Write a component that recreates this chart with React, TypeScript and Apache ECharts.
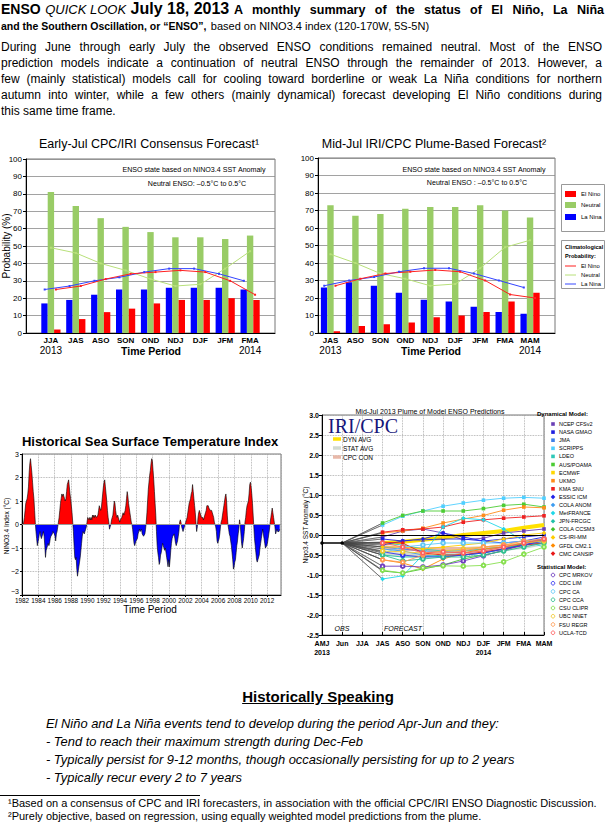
import React, { useEffect, useRef } from 'react';
import * as echarts from 'echarts';

const FONT = '"Liberation Sans", Arial, Helvetica, sans-serif';
const SERIF = '"Liberation Serif", "DejaVu Serif", serif';

// ---------- Consensus forecast (left bar chart) ----------
const consensusSeasons = ['JJA', 'JAS', 'ASO', 'SON', 'OND', 'NDJ', 'DJF', 'JFM', 'FMA'];
const consensusLaNina = [17, 19, 22, 25, 25, 26, 26, 26, 25];
const consensusNeutral = [81, 73, 66, 61, 58, 55, 55, 54, 56];
const consensusElNino = [2, 8, 12, 14, 17, 19, 19, 20, 19];
const consensusClimLaNina = [25, 27, 30, 32, 35, 37, 37, 34, 30];
const consensusClimNeutral = [49, 46, 40, 36, 31, 27, 28, 37, 47];
const consensusClimElNino = [25, 27, 31, 34, 35, 36, 35, 30, 22];

// ---------- Plume-based forecast (right bar chart) ----------
const plumeSeasons = ['JAS', 'ASO', 'SON', 'OND', 'NDJ', 'DJF', 'JFM', 'FMA', 'MAM'];
const plumeLaNina = [26, 29, 27, 23, 19, 18, 15, 12, 11];
const plumeNeutral = [73, 67, 68, 71, 72, 72, 73, 70, 66];
const plumeElNino = [1, 4, 5, 6, 9, 10, 12, 18, 23];
const plumeClimLaNina = [27, 30, 32, 35, 37, 37, 34, 30, 26];
const plumeClimNeutral = [45, 40, 34, 31, 27, 28, 37, 49, 53];
const plumeClimElNino = [27, 31, 34, 35, 36, 35, 30, 22, 20];

// ---------- Historical NINO3.4 index, monthly from Jan 1982 ----------
const sst1980s = [
  0.1, 0.0, 0.1, 0.3, 0.6, 0.9, 1.0, 1.1, 1.3, 1.6, 2.2, 2.6,
  2.8, 2.5, 2.2, 1.8, 1.4, 1.1, 0.6, 0.1, -0.3, -0.6, -0.9, -0.9,
  -0.6, -0.4, -0.3, -0.5, -0.6, -0.5, -0.4, -0.3, -0.5, -0.9, -1.4, -1.1,
  -1.0, -0.9, -0.8, -0.9, -0.8, -0.6, -0.5, -0.5, -0.4, -0.3, -0.3, -0.4,
  -0.5, -0.7, -0.4, -0.3, -0.1, 0.1, 0.3, 0.6, 0.9, 1.1, 1.3, 1.2,
  1.3, 1.2, 1.1, 1.0, 1.1, 1.4, 1.7, 1.8, 1.9, 1.6, 1.3, 1.1,
  0.8, 0.5, 0.1, -0.3, -0.9, -1.4, -1.5, -1.4, -1.9, -2.2, -2.0, -1.8,
  -1.6, -1.4, -1.1, -0.8, -0.5, -0.3, -0.3, -0.4, -0.3, -0.2, -0.1, 0.1,
];
const sst1990s = [
  0.3, 0.3, 0.2, 0.3, 0.2, 0.3, 0.2, 0.4, 0.3, 0.4, 0.3, 0.4,
  0.4, 0.3, 0.3, 0.4, 0.6, 0.8, 0.7, 0.6, 0.7, 1.0, 1.3, 1.6,
  1.8, 1.9, 1.6, 1.3, 1.0, 0.6, 0.3, 0.1, -0.2, -0.1, 0.0, 0.2,
  0.3, 0.4, 0.7, 1.0, 0.9, 0.6, 0.4, 0.3, 0.4, 0.3, 0.2, 0.1,
  0.2, 0.2, 0.3, 0.4, 0.5, 0.4, 0.5, 0.6, 0.8, 1.1, 1.4, 1.2,
  0.9, 0.7, 0.5, 0.3, 0.1, 0.0, -0.2, -0.5, -0.8, -0.9, -0.8, -0.7,
  -0.7, -0.6, -0.4, -0.3, -0.2, -0.3, -0.3, -0.2, -0.4, -0.4, -0.5, -0.5,
  -0.4, -0.2, 0.1, 0.5, 1.0, 1.5, 1.8, 2.1, 2.3, 2.6, 2.8, 2.7,
  2.3, 1.9, 1.4, 0.9, 0.4, -0.3, -0.9, -1.2, -1.4, -1.7, -1.6, -1.3,
  -1.2, -1.0, -0.8, -0.9, -1.0, -1.1, -1.0, -1.2, -1.4, -1.6, -1.8, -1.5,
];
const sst2000s = [
  -1.8, -1.5, -1.1, -0.8, -0.6, -0.5, -0.5, -0.4, -0.6, -0.8, -0.9, -0.8,
  -0.7, -0.5, -0.3, 0.1, 0.2, 0.1, -0.1, -0.2, -0.3, -0.2, -0.1, 0.0,
  0.1, 0.2, 0.3, 0.5, 0.7, 0.9, 1.0, 1.1, 1.3, 1.4, 1.7, 1.4,
  1.1, 0.8, 0.5, 0.1, -0.3, -0.1, 0.3, 0.5, 0.6, 0.5, 0.4, 0.3,
  0.3, 0.3, 0.2, 0.3, 0.4, 0.5, 0.6, 0.8, 0.8, 0.8, 0.7, 0.7,
  0.6, 0.6, 0.6, 0.5, 0.4, 0.3, 0.1, 0.0, -0.1, -0.3, -0.7, -0.8,
  -0.8, -0.6, -0.4, -0.1, 0.1, 0.2, 0.4, 0.6, 0.8, 1.0, 1.2, 1.3,
  1.0, 0.4, 0.0, -0.2, -0.4, -0.5, -0.7, -0.9, -1.2, -1.5, -1.9, -1.8,
  -1.6, -1.5, -1.2, -0.9, -0.7, -0.4, -0.2, 0.2, 0.0, -0.4, -0.8, -1.0,
  -0.8, -0.6, -0.3, 0.1, 0.3, 0.6, 0.8, 0.9, 1.0, 1.3, 1.7, 1.8,
];
const sst2010s = [
  1.6, 1.3, 0.9, 0.4, -0.1, -0.6, -0.9, -1.2, -1.5, -1.6, -1.5, -1.5,
  -1.3, -1.0, -0.8, -0.6, -0.4, -0.2, -0.4, -0.6, -0.8, -1.0, -1.0, -0.9,
  -0.8, -0.6, -0.4, -0.2, 0.1, 0.3, 0.5, 0.7, 0.5, 0.3, 0.1, -0.1,
  -0.4, -0.3, -0.2, -0.3, -0.3, -0.3, -0.2,
];
const sstFirstYear = 1982;

// ---------- Plume of model predictions ----------
const plumeAxisLabels = ['AMJ', 'Jun', 'JJA', 'JAS', 'ASO', 'SON', 'OND', 'NDJ', 'DJF', 'JFM', 'FMA', 'MAM'];
const observedNino34 = [-0.2, -0.2]; // AMJ, Jun
const forecastStartIndex = 3; // JAS

const dynModelNames = ['NCEP CFSv2', 'NASA GMAO', 'JMA', 'SCRIPPS', 'LDEO', 'AUS/POAMA', 'ECMWF', 'UKMO', 'KMA SNU',
  'ESSIC ICM', 'COLA ANOM', 'MetFRANCE', 'JPN-FRCGC', 'COLA CCSM3', 'CS-IRI-MM', 'GFDL CM2.1', 'CMC CANSIP'];
const dynModelValues: (number | null)[][] = [
  [-0.05, 0.1, 0.15, 0.05, -0.12, -0.08, 0.05, 0.1, 0.15],
  [-0.1, -0.15, -0.12, -0.1, -0.1, -0.15, -0.1, -0.05, 0.0],
  [-0.3, -0.35, -0.4, -0.42, -0.45, null, null, null, null],
  [0.25, 0.47, 0.6, 0.72, 0.8, 0.87, 0.92, 0.94, 0.92],
  [-0.2, -0.25, -0.35, -0.4, -0.4, -0.35, -0.3, -0.25, -0.2],
  [0.3, 0.49, 0.6, 0.6, 0.6, 0.66, 0.74, 0.77, 0.7],
  [-0.2, -0.18, -0.1, -0.05, 0.0, null, null, null, null],
  [0.05, 0.1, 0.17, 0.3, 0.4, 0.49, 0.62, 0.7, 0.68],
  [0.07, 0.13, 0.15, 0.2, 0.32, 0.38, 0.42, 0.45, 0.48],
  [-0.25, -0.15, -0.1, 0.05, -0.05, -0.15, -0.2, -0.15, -0.05],
  [-0.35, -0.4, -0.5, -0.55, -0.5, -0.45, -0.35, -0.25, -0.15],
  [-1.1, -1.02, -0.5, 0.2, 0.42, 0.38, 0.15, -0.15, -0.3],
  [-0.5, -0.55, -0.55, -0.5, -0.5, -0.45, -0.35, -0.2, -0.1],
  [-0.9, -0.95, -0.85, -0.75, -0.6, -0.5, -0.4, -0.2, -0.1],
  [-0.3, -0.3, -0.35, -0.3, -0.25, -0.2, -0.1, 0.0, 0.05],
  [-0.62, -0.7, -0.85, -0.6, -0.45, -0.35, -0.3, -0.2, -0.15],
  [-0.18, -0.2, -0.45, -0.5, -0.5, -0.42, -0.35, -0.25, -0.2],
];
const dynModelColors = ['#6a3fb5', '#1f1fe0', '#3f7fe8', '#4fcfff', '#2fc8b8', '#4ccc33', '#ffd700', '#ff8c1a', '#ee2020',
  '#2020e8', '#3c9cf0', '#20d8e8', '#20c0a8', '#44c02a', '#ffcc00', '#ff8a00', '#e81818'];

const statModelNames = ['CPC MRKOV', 'CDC LIM', 'CPC CA', 'CPC CCA', 'CSU CLIPR', 'UBC NNET', 'FSU REGR', 'UCLA-TCD'];
const statModelValues: (number | null)[][] = [
  [-0.78, -0.78, -0.8, -0.75, -0.65, -0.52, -0.38, -0.25, -0.12],
  [-0.42, -0.5, -0.55, -0.55, -0.5, -0.45, -0.35, -0.25, -0.15],
  [-0.45, -0.3, -0.25, -0.2, -0.2, -0.2, -0.2, -0.15, -0.1],
  [-0.5, -0.65, -0.6, -0.55, -0.55, -0.5, -0.4, -0.3, -0.2],
  [-0.88, -0.95, -0.82, -0.77, -0.78, -0.76, -0.67, -0.48, -0.3],
  [-0.4, -0.42, -0.45, -0.4, -0.35, -0.3, -0.25, -0.2, -0.15],
  [-0.62, -0.68, -0.5, -0.45, -0.4, -0.3, -0.25, -0.15, -0.1],
  [-0.2, -0.3, -0.45, -0.42, -0.45, -0.4, -0.3, -0.2, -0.1],
];
const statModelColors = ['#7040c0', '#3434f0', '#60c8f8', '#30c090', '#88e050', '#f0c830', '#ff9a50', '#ff6060'];

const dynAvg = [-0.2, -0.17, -0.12, -0.07, 0.0, 0.05, 0.1, 0.18, 0.25];
const statAvg = [-0.45, -0.5, -0.5, -0.47, -0.45, -0.4, -0.35, -0.3, -0.2];
const cpcConsensus = [-0.3, -0.35, -0.35, -0.35, -0.35, -0.33, -0.3, -0.25, null];

const paragraphLines = [
  'During June through early July the observed ENSO conditions remained neutral.  Most of the ENSO',
  'prediction models indicate a continuation of neutral ENSO through the remainder of 2013.  However, a',
  'few (mainly statistical) models call for cooling toward borderline or weak La Niña conditions for northern',
  'autumn into winter, while a few others (mainly dynamical) forecast developing El Niño conditions during',
  'this same time frame.',
];
const historyLines = [
  'El Niño and La Niña events tend to develop during the period Apr-Jun and they:',
  '- Tend to reach their maximum strength during Dec-Feb',
  '- Typically persist for 9-12 months, though occasionally persisting for up to 2 years',
  '- Typically recur every 2 to 7 years',
];

const RED = '#ff0000';
const GREEN = '#99cc66';
const BLUE = '#0000ff';

function txt(x: number, y: number, text: string, o: any = {}) {
  return {
    type: 'text', x, y, rotation: o.rotation || 0, silent: true, z: 100,
    style: {
      text, fill: o.color || '#000', fontSize: o.size || 10, fontFamily: o.family || FONT,
      fontWeight: o.weight || 'normal', fontStyle: o.style || 'normal',
      textAlign: o.align || 'left', textVerticalAlign: 'middle', align: o.align || 'left', verticalAlign: 'middle',
    },
  };
}

function buildOption() {
  const gridBase = { show: true, borderColor: '#777', borderWidth: 1, backgroundColor: 'transparent', containLabel: false, outerBoundsMode: 'none' };
  const grid = [
    { left: 26, top: 159, width: 249, height: 174 },
    { left: 318, top: 158, width: 237, height: 175 },
    { left: 22, top: 454, width: 259, height: 141 },
    { left: 322, top: 415, width: 222, height: 220 },
  ].map((g) => ({ ...gridBase, ...g }));

  // bar x axes: value axes starting at 0 at the plot's left edge; seasons sit at start + k
  const barX = (gridIndex: number, cats: string[], start: number, max: number, interval: number) => ({
    type: 'value', gridIndex, min: 0, max, interval,
    axisLine: { show: true, onZero: false, lineStyle: { color: '#000', width: 1 } },
    axisTick: { show: false },
    splitLine: { show: false },
    axisLabel: {
      margin: 3, hideOverlap: false, showMinLabel: true, showMaxLabel: true,
      formatter: (v: number) => {
        const i = Math.round(v - start);
        if (Math.abs(v - start - i) > 1e-6 || i < 0 || i >= cats.length) return '';
        if (i === 0) return `{c|${cats[i]}}\n{y|2013}`;
        if (i === cats.length - 1) return `{c|${cats[i]}}\n{y|2014}`;
        return `{c|${cats[i]}}`;
      },
      rich: {
        c: { fontSize: 8, fontWeight: 'bold', fontFamily: FONT, color: '#000', lineHeight: 9 },
        y: { fontSize: 10, fontFamily: FONT, color: '#000', lineHeight: 11 },
      },
    },
  });
  const barY = (gridIndex: number) => ({
    type: 'value', gridIndex, min: 0, max: 100, interval: 10,
    axisLine: { show: true, onZero: false, lineStyle: { color: '#000', width: 1 } },
    axisTick: { show: true, length: 3, lineStyle: { color: '#000' } },
    axisLabel: { fontSize: 8, margin: 4, fontFamily: FONT, color: '#000' },
    splitLine: { show: true, lineStyle: { color: '#8a8a8a', width: 0.8 } },
  });

  const bar = (ai: number, start: number, name: string, vals: number[], color: string) => ({
    type: 'bar', name, xAxisIndex: ai, yAxisIndex: ai, silent: true, z: 3,
    data: vals.map((v, i) => [start + i, v]), barWidth: 6.4, barGap: '0%',
    itemStyle: { color, borderWidth: 0 },
  });
  const clim = (ai: number, start: number, name: string, vals: number[], color: string, off: number) => ({
    type: 'line', name, xAxisIndex: ai, yAxisIndex: ai, silent: true, z: 5,
    data: vals.map((v, i) => [start + i + off, v]), symbol: 'rect', symbolSize: 2, showSymbol: true,
    lineStyle: { color, width: 1 }, itemStyle: { color, borderWidth: 0 },
  });

  const sstAll = [...sst1980s, ...sst1990s, ...sst2000s, ...sst2010s];
  const sstData = sstAll.map((v, k) => [sstFirstYear + (k + 0.5) / 12, v]);

  const L0 = 1;   // left chart: first season at 1 on a 0..10 axis
  const R0 = 0.5; // right chart: first season at 0.5 on a 0..9.5 axis
  const series: any[] = [
    bar(0, L0, 'La Niña', consensusLaNina, BLUE),
    bar(0, L0, 'Neutral', consensusNeutral, GREEN),
    bar(0, L0, 'El Niño', consensusElNino, RED),
    clim(0, L0, 'Clim Neutral', consensusClimNeutral, '#b8e07a', 0),
    clim(0, L0, 'Clim La Niña', consensusClimLaNina, '#3344ff', -0.25),
    clim(0, L0, 'Clim El Niño', consensusClimElNino, '#ff2020', 0.2),
    bar(1, R0, 'La Niña', plumeLaNina, BLUE),
    bar(1, R0, 'Neutral', plumeNeutral, GREEN),
    bar(1, R0, 'El Niño', plumeElNino, RED),
    clim(1, R0, 'Clim Neutral', plumeClimNeutral, '#b8e07a', 0),
    clim(1, R0, 'Clim La Niña', plumeClimLaNina, '#3344ff', -0.25),
    clim(1, R0, 'Clim El Niño', plumeClimElNino, '#ff2020', 0.2),
  ];
  const sstAreaIndex = series.length;
  series.push({
    type: 'line', name: 'NINO3.4 area', xAxisIndex: 2, yAxisIndex: 2, silent: true,
    data: sstData, symbol: 'none', showSymbol: false,
    lineStyle: { width: 0 }, areaStyle: { opacity: 1 },
    markLine: {
      silent: true, symbol: 'none', label: { show: false },
      lineStyle: { color: '#999', type: 'solid', width: 1 }, data: [{ yAxis: 0 }],
    },
  });
  series.push({
    type: 'line', name: 'NINO3.4', xAxisIndex: 2, yAxisIndex: 2, silent: true, z: 4,
    data: sstData, symbol: 'none', lineStyle: { color: '#000', width: 0.6 },
  });

  // plume
  const allModelValues = [...dynModelValues, ...statModelValues];
  const fanData: number[][] = [];
  allModelValues.forEach((vals) => {
    if (vals[0] != null) {
      fanData.push([1, observedNino34[1]]);
      fanData.push([forecastStartIndex, vals[0] as number]);
    }
  });
  series.push({
    type: 'line', name: 'fan', xAxisIndex: 3, yAxisIndex: 3, silent: true,
    data: fanData, symbol: 'none', lineStyle: { color: '#444', width: 0.5 },
  });
  const avgLine = (name: string, vals: (number | null)[], color: string) => ({
    type: 'line', name, xAxisIndex: 3, yAxisIndex: 3, silent: true, symbol: 'none',
    data: vals.map((v, k) => (v == null ? null : [forecastStartIndex + k, v])).filter(Boolean),
    lineStyle: { color, width: 4 },
  });
  series.push(avgLine('STAT AVG', statAvg, '#d2dad2'));
  series.push(avgLine('CPC CON', cpcConsensus, '#e8b8a8'));
  series.push(avgLine('DYN AVG', dynAvg, '#ffe100'));
  dynModelNames.forEach((name, m) => {
    series.push({
      type: 'line', name, xAxisIndex: 3, yAxisIndex: 3, silent: true,
      data: dynModelValues[m].map((v, k) => (v == null ? null : [forecastStartIndex + k, v])).filter(Boolean),
      symbol: m < 9 ? 'rect' : 'diamond', symbolSize: m < 9 ? 3.6 : 4.6,
      lineStyle: { color: dynModelColors[m], width: 0.9 }, itemStyle: { color: dynModelColors[m] },
    });
  });
  statModelNames.forEach((name, m) => {
    series.push({
      type: 'line', name, xAxisIndex: 3, yAxisIndex: 3, silent: true,
      data: statModelValues[m].map((v, k) => (v == null ? null : [forecastStartIndex + k, v])).filter(Boolean),
      symbol: 'emptyCircle', symbolSize: 3.6,
      lineStyle: { color: statModelColors[m], width: 0.9 }, itemStyle: { color: statModelColors[m], borderWidth: 0.9 },
    });
  });
  series.push({
    type: 'line', name: 'OBS', xAxisIndex: 3, yAxisIndex: 3, silent: true, z: 6,
    data: observedNino34.map((v, k) => [k, v]), symbol: 'circle', symbolSize: 3.5,
    lineStyle: { color: '#000', width: 1.4 }, itemStyle: { color: '#000' },
    markLine: {
      silent: true, symbol: 'none', label: { show: false },
      lineStyle: { color: '#000', type: 'solid', width: 1.2 }, data: [{ yAxis: 0 }],
    },
  });

  const dotted = { show: true, lineStyle: { color: '#a0a0a0', type: 'dotted', width: 0.8 } };

  const xAxis = [
    barX(0, consensusSeasons, L0, 10, 1),
    barX(1, plumeSeasons, R0, 9.5, 0.5),
    {
      type: 'value', gridIndex: 2, min: 1982, max: 2013.7, interval: 2,
      axisLine: { show: true, onZero: false, lineStyle: { color: '#000' } },
      axisTick: { show: true, length: 2, lineStyle: { color: '#000' } },
      axisLabel: {
        fontSize: 6.4, margin: 2, color: '#000', fontFamily: FONT, showMaxLabel: false, hideOverlap: false,
        formatter: (v: number) => String(Math.round(v)),
      },
      splitLine: dotted,
    },
    {
      type: 'category', gridIndex: 3, data: plumeAxisLabels, boundaryGap: false,
      axisLine: { show: true, onZero: false, lineStyle: { color: '#000' } },
      axisTick: { show: true, inside: true, length: 3, lineStyle: { color: '#000' } },
      axisLabel: {
        interval: 0, margin: 4, hideOverlap: false,
        formatter: (v: string, i: number) => {
          if (i === 0) return `{c|${v}}\n{y|2013}`;
          if (i === 8) return `{c|${v}}\n{y|2014}`;
          return `{c|${v}}`;
        },
        rich: {
          c: { fontSize: 7, fontWeight: 'bold', fontFamily: FONT, color: '#000', lineHeight: 9 },
          y: { fontSize: 7, fontWeight: 'bold', fontFamily: FONT, color: '#000', lineHeight: 9 },
        },
      },
      splitLine: { ...dotted, interval: 0 },
    },
  ];
  const yAxis = [
    barY(0),
    barY(1),
    {
      type: 'value', gridIndex: 2, min: -3, max: 3, interval: 1,
      axisLine: { show: true, onZero: false, lineStyle: { color: '#000' } },
      axisTick: { show: true, length: 2, lineStyle: { color: '#000' } },
      axisLabel: {
        fontSize: 7, margin: 3, color: '#000', fontFamily: FONT,
        formatter: (v: number) => (v === -3 ? '{lo|−3}' : String(v).replace('-', '−')),
        rich: { lo: { fontSize: 7, fontFamily: FONT, color: '#000', padding: [0, 0, 7, 0] } },
      },
      splitLine: dotted,
    },
    {
      type: 'value', gridIndex: 3, min: -2.5, max: 3, interval: 0.5,
      axisLine: { show: true, onZero: false, lineStyle: { color: '#000' } },
      axisTick: { show: true, length: 3, lineStyle: { color: '#000' } },
      axisLabel: { fontSize: 7, fontWeight: 'bold', margin: 3, color: '#000', fontFamily: FONT, formatter: (v: number) => v.toFixed(1) },
      splitLine: dotted,
    },
  ];

  const graphic: any[] = [
    txt(149, 144, 'Early-Jul CPC/IRI Consensus Forecast¹', { size: 12.5, align: 'center' }),
    txt(434, 144, 'Mid-Jul IRI/CPC Plume-Based Forecast²', { size: 12.5, align: 'center' }),
    txt(194, 170, 'ENSO state based on NINO3.4 SST Anomaly', { size: 7.1, align: 'center' }),
    txt(197, 183.5, 'Neutral ENSO: –0.5°C to 0.5°C', { size: 7.1, align: 'center' }),
    txt(474, 169.5, 'ENSO state based on NINO3.4 SST Anomaly', { size: 7.1, align: 'center' }),
    txt(477, 183, 'Neutral ENSO : –0.5°C to 0.5°C', { size: 7.1, align: 'center' }),
    txt(151, 350.5, 'Time Period', { size: 10.5, weight: 'bold', align: 'center' }),
    txt(431, 350.5, 'Time Period', { size: 10.5, weight: 'bold', align: 'center' }),
    txt(6, 246, 'Probability (%)', { size: 10, align: 'center', rotation: Math.PI / 2 }),
    { type: 'rect', z: 90, silent: true, shape: { x: 561.5, y: 184.5, width: 43, height: 47 }, style: { fill: '#fff', stroke: '#999', lineWidth: 1 } },
    { type: 'rect', z: 91, silent: true, shape: { x: 565, y: 191, width: 11, height: 6 }, style: { fill: RED } },
    { type: 'rect', z: 91, silent: true, shape: { x: 565, y: 202, width: 11, height: 6 }, style: { fill: GREEN } },
    { type: 'rect', z: 91, silent: true, shape: { x: 565, y: 214, width: 11, height: 6 }, style: { fill: BLUE } },
    txt(581, 194, 'El Nino', { size: 6 }),
    txt(581, 205, 'Neutral', { size: 6 }),
    txt(581, 217, 'La Nina', { size: 6 }),
    { type: 'rect', z: 90, silent: true, shape: { x: 561.5, y: 240.5, width: 43, height: 48 }, style: { fill: '#fff', stroke: '#999', lineWidth: 1 } },
    txt(565, 246.5, 'Climatological', { size: 5.6, weight: 'bold' }),
    txt(565, 256, 'Probability:', { size: 5.6, weight: 'bold' }),
    { type: 'line', z: 91, silent: true, shape: { x1: 565, y1: 266, x2: 576, y2: 266 }, style: { stroke: '#ff2020', lineWidth: 1 } },
    { type: 'line', z: 91, silent: true, shape: { x1: 565, y1: 275, x2: 576, y2: 275 }, style: { stroke: '#b8e07a', lineWidth: 1 } },
    { type: 'line', z: 91, silent: true, shape: { x1: 565, y1: 284, x2: 576, y2: 284 }, style: { stroke: '#7a86ff', lineWidth: 1.5 } },
    txt(581, 266, 'El Nino', { size: 5.8 }),
    txt(581, 275, 'Neutral', { size: 5.8 }),
    txt(581, 284, 'La Nina', { size: 5.8 }),
    txt(150, 441, 'Historical Sea Surface Temperature Index', { size: 13, weight: 'bold', align: 'center' }),
    txt(6, 526, 'NINO3.4 Index (°C)', { size: 6.5, align: 'center', rotation: Math.PI / 2 }),
    txt(150, 609.5, 'Time Period', { size: 10, align: 'center' }),
    txt(430, 411, 'Mid-Jul 2013 Plume of Model ENSO Predictions', { size: 7, align: 'center' }),
    txt(305, 525, 'Nino3.4 SST Anomaly (°C)', { size: 6.5, align: 'center', rotation: Math.PI / 2 }),
    txt(328, 426, 'IRI/CPC', { size: 20, family: SERIF, color: '#16167a' }),
    { type: 'line', z: 91, silent: true, shape: { x1: 333, y1: 439, x2: 341, y2: 439 }, style: { stroke: '#ffe100', lineWidth: 3.5 } },
    { type: 'line', z: 91, silent: true, shape: { x1: 333, y1: 448, x2: 341, y2: 448 }, style: { stroke: '#d2dad2', lineWidth: 3.5 } },
    { type: 'line', z: 91, silent: true, shape: { x1: 333, y1: 457, x2: 341, y2: 457 }, style: { stroke: '#e8b8a8', lineWidth: 3.5 } },
    txt(343, 439, 'DYN AVG', { size: 6.5 }),
    txt(343, 448, 'STAT AVG', { size: 6.5 }),
    txt(343, 457, 'CPC CON', { size: 6.5 }),
    txt(342, 628, 'OBS', { size: 7, style: 'italic', align: 'center' }),
    txt(403, 628, 'FORECAST', { size: 7, style: 'italic', align: 'center' }),
    txt(537, 414, 'Dynamical Model:', { size: 6, weight: 'bold' }),
    txt(537, 566.5, 'Statistical Model:', { size: 6, weight: 'bold' }),
  ];
  dynModelNames.forEach((name, m) => {
    const y = 424 + m * 8.1;
    const c = dynModelColors[m];
    if (m < 9) {
      graphic.push({ type: 'rect', z: 91, silent: true, shape: { x: 551.2, y: y - 1.8, width: 3.6, height: 3.6 }, style: { fill: c } });
    } else {
      graphic.push({ type: 'polygon', z: 91, silent: true, shape: { points: [[553, y - 2.3], [555.3, y], [553, y + 2.3], [550.7, y]] }, style: { fill: c } });
    }
    graphic.push(txt(559, y, name, { size: 5.5 }));
  });
  statModelNames.forEach((name, m) => {
    const y = 575 + m * 8.25;
    graphic.push({ type: 'circle', z: 91, silent: true, shape: { cx: 553, cy: y, r: 1.8 }, style: { fill: '#fff', stroke: statModelColors[m], lineWidth: 0.9 } });
    graphic.push(txt(559, y, name, { size: 5.5 }));
  });

  return {
    animation: false,
    backgroundColor: '#fff',
    grid, xAxis, yAxis, series, graphic,
    visualMap: [{
      type: 'piecewise', show: false, seriesIndex: sstAreaIndex, dimension: 1,
      pieces: [{ gt: -10, lte: 0, color: '#0000ff' }, { gt: 0, lte: 10, color: '#ff0000' }],
      outOfRange: { color: '#999' },
    }],
  };
}

export default function App() {
  const ref = useRef<HTMLDivElement>(null);
  useEffect(() => {
    if (!ref.current) return;
    const chart = echarts.init(ref.current, null, { renderer: 'svg' });
    chart.setOption(buildOption() as any);
    return () => chart.dispose();
  }, []);

  const abs = (o: any): React.CSSProperties => ({ position: 'absolute', pointerEvents: 'none', ...o });
  return (
    <div style={{ position: 'absolute', left: 0, top: 0, width: 606, height: 824, background: '#fff', color: '#000', fontFamily: FONT, overflow: 'hidden' }}>
      <div ref={ref} style={{ position: 'absolute', left: 0, top: 0, width: 606, height: 824 }} />
      <div style={abs({ left: 1, top: 0, lineHeight: '18px', whiteSpace: 'nowrap' })}>
        <b style={{ fontSize: 14 }}>ENSO</b>{' '}
        <i style={{ fontSize: 13 }}>QUICK LOOK</i>{' '}
        <b style={{ fontSize: 16 }}>July 18, 2013</b>
      </div>
      <div style={abs({ left: 234, top: 0, width: 370, lineHeight: '18px', textAlign: 'justify', textAlignLast: 'justify', whiteSpace: 'nowrap' })}>
        <b style={{ fontSize: 12.5 }}>A monthly summary of the status of El Niño, La Niña</b>
      </div>
      <div style={abs({ left: 1, top: 17, width: 603, lineHeight: '16px', whiteSpace: 'nowrap' })}>
        <b style={{ fontSize: 10.5 }}>and the Southern Oscillation, or “ENSO”,</b>{' '}
        <span style={{ fontSize: 11 }}>based on NINO3.4 index (120-170W, 5S-5N)</span>
      </div>
      {paragraphLines.map((line, i) => (
        <div key={i} style={abs({
          left: 1, top: 39 + i * 16, width: 601, fontSize: 12, lineHeight: '16px',
          textAlign: 'justify', textAlignLast: i < paragraphLines.length - 1 ? 'justify' : 'left', whiteSpace: 'nowrap',
        })}>{line}</div>
      ))}
      <div style={abs({ left: 218, top: 688, width: 200, textAlign: 'center', fontSize: 15, fontWeight: 'bold', lineHeight: '18px', textDecoration: 'underline' })}>
        Historically Speaking
      </div>
      {historyLines.map((line, i) => (
        <div key={i} style={abs({ left: 46, top: 715 + i * 18, fontSize: 12.9, fontStyle: 'italic', lineHeight: '18px', whiteSpace: 'nowrap' })}>{line}</div>
      ))}
      <div style={abs({ left: 0, top: 795, width: 200, borderTop: '1px solid #000' })} />
      <div style={abs({ left: 8, top: 797, fontSize: 11, lineHeight: '13px', whiteSpace: 'nowrap' })}>
        ¹Based on a consensus of CPC and IRI forecasters, in association with the official CPC/IRI ENSO Diagnostic Discussion.
      </div>
      <div style={abs({ left: 8, top: 810, fontSize: 11, lineHeight: '13px', whiteSpace: 'nowrap' })}>
        ²Purely objective, based on regression, using equally weighted model predictions from the plume.
      </div>
    </div>
  );
}
